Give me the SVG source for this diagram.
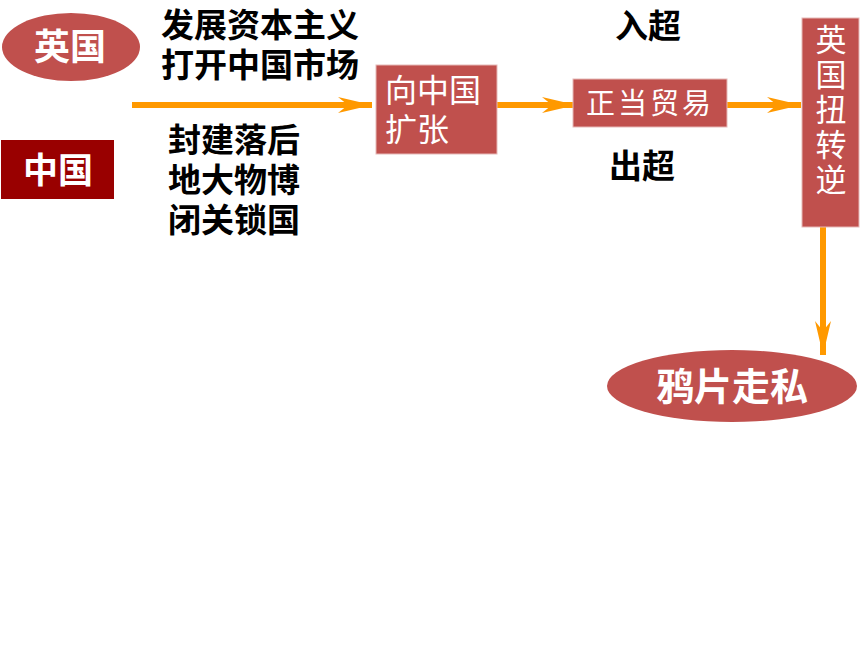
<svg xmlns="http://www.w3.org/2000/svg" width="860" height="645" viewBox="0 0 860 645">
<style>
.bk{font-family:"Noto Sans CJK SC","Noto Sans CJK TC",sans-serif;font-weight:bold;fill:#000;font-size:33px}
.wt{font-family:"Noto Sans CJK SC","Noto Sans CJK TC",sans-serif;fill:#fff}
.box{fill:#c0504d;stroke:#e6b9b8;stroke-width:1}
.conn{stroke:#ff9900;stroke-width:6;fill:none}
</style>
<defs>
<marker id="ah" markerUnits="userSpaceOnUse" markerWidth="36" markerHeight="18" refX="34" refY="8" orient="auto">
<path d="M0,0 L34,8 L0,16 L10,8 z" fill="#ff9900"/>
</marker>
</defs>
<rect width="860" height="645" fill="#fff"/>
<g id="connectors">
<line class="conn" x1="132" y1="105" x2="372" y2="105" marker-end="url(#ah)"/>
<line class="conn" x1="497" y1="105" x2="576" y2="105" marker-end="url(#ah)"/>
<line class="conn" x1="727" y1="105" x2="801" y2="105" marker-end="url(#ah)"/>
<line class="conn" x1="823" y1="227" x2="823" y2="355" marker-end="url(#ah)"/>
</g>
<g id="uk">
<ellipse cx="71" cy="47" rx="69" ry="34" fill="#c0504d"/>
<text class="wt" x="70" y="60" font-size="36" font-weight="bold" text-anchor="middle">英国</text>
</g>
<g id="china">
<rect x="1" y="140" width="113" height="59" fill="#990000"/>
<text class="wt" x="58" y="183" font-size="35" font-weight="bold" text-anchor="middle">中国</text>
</g>
<g id="uk-text">
<text class="bk" x="161" y="37">发展资本主义</text>
<text class="bk" x="161" y="77">打开中国市场</text>
</g>
<g id="china-text">
<text class="bk" x="168" y="152">封建落后</text>
<text class="bk" x="168" y="192">地大物博</text>
<text class="bk" x="168" y="232">闭关锁国</text>
</g>
<g id="expand">
<rect class="box" x="376" y="65" width="121" height="89"/>
<text class="wt" x="385" y="102" font-size="32">向中国</text>
<text class="wt" x="385" y="141" font-size="32">扩张</text>
</g>
<g id="trade">
<rect class="box" x="573" y="79" width="154" height="48"/>
<text class="wt" x="650" y="114" font-size="29" letter-spacing="3" text-anchor="middle">正当贸易</text>
</g>
<g id="labels">
<text class="bk" x="615" y="38">入超</text>
<text class="bk" x="609" y="178">出超</text>
</g>
<g id="reverse">
<rect class="box" x="802" y="18" width="57" height="209"/>
<text class="wt" x="831" y="24" font-size="31" writing-mode="tb" letter-spacing="4">英国扭转逆</text>
</g>
<g id="opium">
<ellipse cx="732" cy="386" rx="125" ry="36" fill="#c0504d"/>
<text class="wt" x="732" y="400" font-size="38" font-weight="bold" text-anchor="middle">鸦片走私</text>
</g>
</svg>
